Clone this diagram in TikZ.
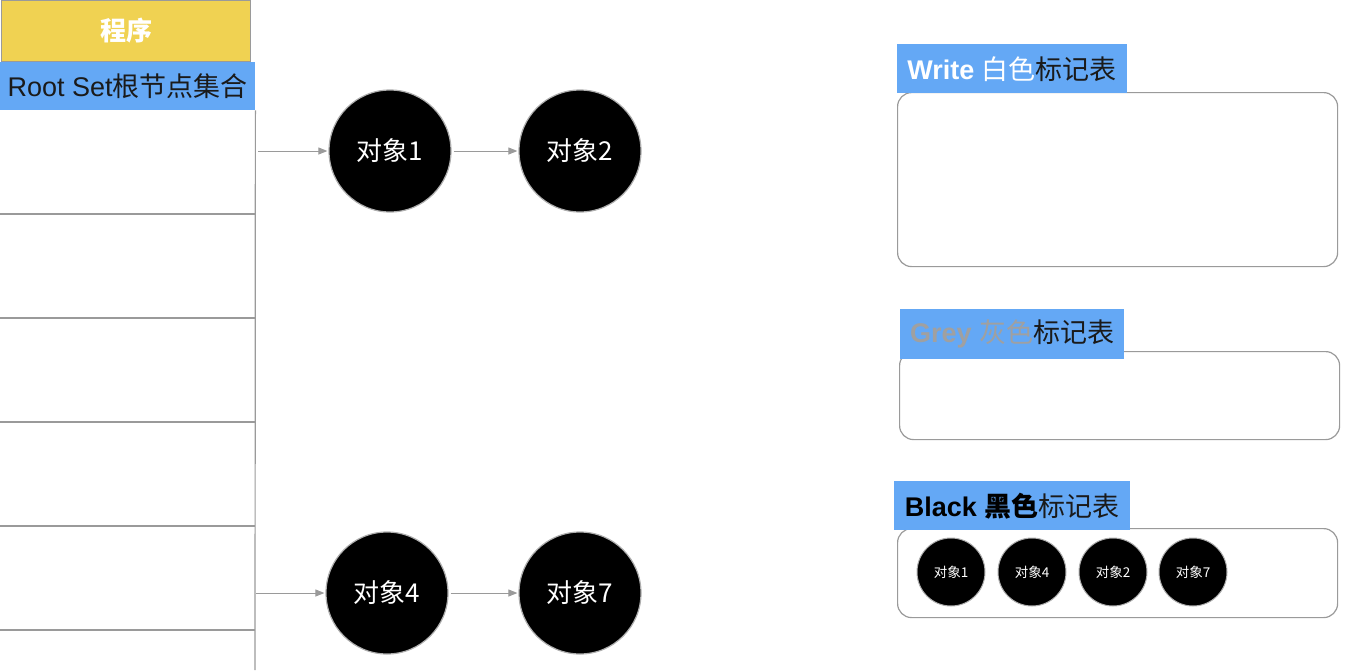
\documentclass[tikz,border=0pt]{standalone}
\usepackage{fontspec}
\setmainfont{Liberation Sans}
\newfontfamily\cjk{Noto Sans CJK SC}
\usetikzlibrary{arrows.meta}
\definecolor{labelblue}{HTML}{64A8F5}
\definecolor{progyellow}{HTML}{F0D252}
\definecolor{linegrey}{HTML}{9A9A9A}
\definecolor{greytext}{HTML}{A0A0A0}
\definecolor{darktext}{HTML}{1A1A1A}
\begin{document}
\begin{tikzpicture}[x=1pt,y=-1pt,
 obj/.style={circle,fill=black,draw=linegrey!80,line width=1.2pt,minimum size=122pt,inner sep=0pt,text=white,font=\cjk\fontsize{26}{30}\selectfont},
 smallobj/.style={circle,fill=black,draw=linegrey!80,line width=1pt,minimum size=68pt,inner sep=0pt,text=white,font=\cjk\fontsize{13.5}{16}\selectfont},
 link/.style={draw=linegrey,line width=1pt,-{Triangle[length=9pt,width=7pt]}},
 tablebox/.style={draw=linegrey,line width=1.2pt,rounded corners=14pt,anchor=north west,inner sep=0pt},
 bluelabel/.style={fill=labelblue,inner sep=0pt,anchor=north west,text=darktext,font=\fontsize{27}{32}\selectfont},
 rowline/.style={draw=linegrey,line width=1.2pt},
]
\useasboundingbox (0,0) rectangle (1366,670);

% program header
\node[fill=progyellow,draw=linegrey,line width=1pt,minimum width=249pt,minimum height=61pt,anchor=north west,inner sep=0pt,text=white,font=\cjk\bfseries\fontsize{26}{30}\selectfont] (prog) at (1,0) {程序};
\node[bluelabel,minimum width=255pt,minimum height=48pt] (root) at (0,62) {Root Set{\cjk 根节点集合}\hspace{6pt}};

% table
\coordinate (tbot) at (255,670);
\draw[rowline] (root.south east) -- (tbot);
\foreach \y in {214,318,422,526,630} {
  \draw[rowline] (0,\y) -- (255,\y);
}

% objects
\node[obj] (o1) at (390,151) {对象1};
\node[obj] (o2) at (580,151) {对象2};
\node[obj] (o4) at (387,593) {对象4};
\node[obj] (o7) at (580,593) {对象7};

\coordinate (r1) at (258,151);
\coordinate (r5) at (256,593);
\draw[link,shorten >=1pt] (r1) -- (o1);
\draw[link,shorten <=2pt,shorten >=1pt] (o1) -- (o2);
\draw[link,shorten >=1pt] (r5) -- (o4);
\draw[link,shorten <=2pt,shorten >=1pt] (o4) -- (o7);

% mark tables
\node[tablebox,minimum width=440pt,minimum height=174pt] (wbox) at (897,92) {};
\node[bluelabel,minimum width=230pt,minimum height=49pt] (wlabel) at (897,44) {{\color{white}\textbf{Write} {\cjk 白色}}{\cjk 标记表}\hspace{4pt}};

\node[tablebox,minimum width=440pt,minimum height=88pt] (gbox) at (899,351) {};
\node[bluelabel,minimum width=224pt,minimum height=50pt] (glabel) at (900,309) {{\color{greytext}\textbf{Grey} {\cjk 灰色}}{\cjk 标记表}\hspace{4pt}};

\node[tablebox,minimum width=440pt,minimum height=89pt] (bbox) at (897,528) {};
\node[bluelabel,minimum width=236pt,minimum height=49pt] (blabel) at (894,481) {{\bfseries\color{black}Black {\cjk 黑色}}{\cjk 标记表}\hspace{4pt}};

\node[smallobj] (b1) at (951,572) {对象1};
\node[smallobj] (b4) at (1032,572) {对象4};
\node[smallobj] (b2) at (1113,572) {对象2};
\node[smallobj] (b7) at (1193,572) {对象7};
\end{tikzpicture}
\end{document}
